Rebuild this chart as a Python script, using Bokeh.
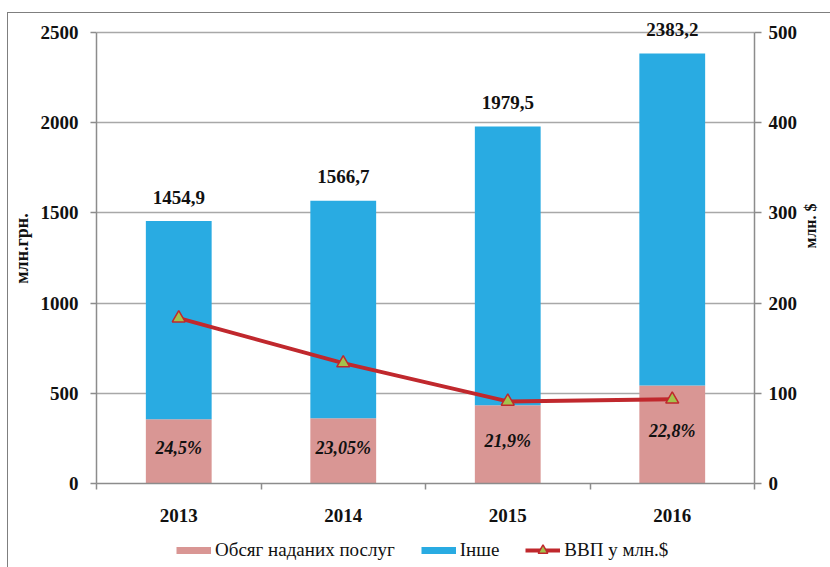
import math
import numpy as np
from bokeh.plotting import figure
from bokeh.layouts import column
from bokeh.models import (ColumnDataSource, Range1d, LinearAxis, FixedTicker,
                          Legend, LegendItem)
from bokeh.core.properties import value
from bokeh.embed import file_html
from bokeh.resources import INLINE

# ---------------- data ----------------
years = ["2013", "2014", "2015", "2016"]
total_uah = [1454.9, 1566.7, 1979.5, 2383.2]          # млн.грн., whole bar
services_uah = [356.4, 361.1, 433.5, 543.4]            # Обсяг наданих послуг
total_labels = ["1454,9", "1566,7", "1979,5", "2383,2"]
share_labels = ["24,5%", "23,05%", "21,9%", "22,8%"]
gdp_usd = [183.3, 133.5, 91.0, 93.3]                   # ВВП у млн.$
left_ticks = [0, 500, 1000, 1500, 2000, 2500]
right_ticks = [0, 100, 200, 300, 400, 500]

PINK = "#D99694"
BLUE = "#29ABE2"
RED = "#C0282D"
TRI = "#A4C24C"
GRID = "#A8A8A8"
AXIS = "#8C8C8C"
TXT = "#111111"
FNAME = "'Liberation Serif'"
FONT = value(FNAME)

n = len(years)
xc = (np.arange(n) + 0.5).tolist()
other = [t - s for t, s in zip(total_uah, services_uah)]
half = [s / 2 for s in services_uah]

left_max = left_ticks[-1]
right_max = right_ticks[-1]
ppu = 451 / left_max                 # pixels per unit on the left scale
y_end = left_max + 19 / ppu          # headroom for the top value label
k = right_max / left_max

src = ColumnDataSource(dict(x=xc, services=services_uah, other=other,
                            total=total_uah, tl=total_labels, sl=share_labels,
                            half=half, gdp=gdp_usd))

p = figure(width=822, height=517, x_range=Range1d(0, n), y_range=Range1d(0, y_end),
           output_backend="svg", toolbar_location=None,
           min_border_left=87, min_border_right=73, min_border_top=0, min_border_bottom=47,
           outline_line_color=None, background_fill_color="white", border_fill_color="white")
p.extra_y_ranges = {"usd": Range1d(0, y_end * k)}

# x axis (ticks at category boundaries, labels at centres)
xa = p.xaxis[0]
xa.ticker = FixedTicker(ticks=xc, minor_ticks=list(range(n + 1)))
xa.major_label_overrides = {float(x): y for x, y in zip(xc, years)}
xa.major_tick_out = 0
xa.major_tick_in = 0
xa.minor_tick_out = 6
xa.minor_tick_in = 0
xa.minor_tick_line_color = AXIS
xa.minor_tick_line_width = 1.5
xa.axis_line_color = AXIS
xa.axis_line_width = 1.5
xa.major_label_standoff = 19
xa.major_label_text_font = FNAME
xa.major_label_text_font_style = "bold"
xa.major_label_text_font_size = "19px"
xa.major_label_text_color = TXT

# left axis
ya = p.yaxis[0]
ya.ticker = FixedTicker(ticks=left_ticks)
ya.bounds = (0, left_max)
ya.minor_tick_out = 0
ya.minor_tick_in = 0
ya.major_tick_out = 6
ya.major_tick_in = 0
ya.major_tick_line_color = AXIS
ya.major_tick_line_width = 1.5
ya.axis_line_color = AXIS
ya.axis_line_width = 1.5
ya.major_label_standoff = 12
ya.major_label_text_font = FNAME
ya.major_label_text_font_style = "bold"
ya.major_label_text_font_size = "19px"
ya.major_label_text_color = TXT
ya.axis_label = "млн.грн."
ya.axis_label_standoff = 6
ya.axis_label_text_font = FNAME
ya.axis_label_text_font_style = "bold"
ya.axis_label_text_font_size = "18px"
ya.axis_label_text_color = TXT

# right axis
ra = LinearAxis(y_range_name="usd", ticker=FixedTicker(ticks=right_ticks),
                bounds=(0, right_max), axis_label="млн. $")
ra.minor_tick_out = 0
ra.minor_tick_in = 0
ra.major_tick_out = 7
ra.major_tick_in = 0
ra.major_tick_line_color = AXIS
ra.major_tick_line_width = 1.5
ra.axis_line_color = AXIS
ra.axis_line_width = 1.5
ra.major_label_standoff = 7
ra.major_label_text_font = FNAME
ra.major_label_text_font_style = "bold"
ra.major_label_text_font_size = "19px"
ra.major_label_text_color = TXT
ra.axis_label_standoff = 10
ra.axis_label_orientation = math.pi / 2
ra.axis_label_text_font = FNAME
ra.axis_label_text_font_style = "bold"
ra.axis_label_text_font_size = "16px"
ra.axis_label_text_color = TXT
p.add_layout(ra, "right")

p.xgrid.visible = False
p.ygrid.ticker = FixedTicker(ticks=left_ticks)
p.ygrid.grid_line_color = GRID
p.ygrid.grid_line_width = 1.4

# bars
p.vbar_stack(["services", "other"], x="x", width=0.4, source=src,
             fill_color=[PINK, BLUE], line_color=None)

# value labels
p.text("x", "total", text="tl", source=src, text_align="center", text_baseline="middle",
       y_offset=-24, text_font=FONT, text_font_style="bold", text_font_size="19px",
       text_color=TXT)
p.text("x", "half", text="sl", source=src, text_align="center", text_baseline="middle",
       y_offset=-3, text_font=FONT, text_font_style="bold italic", text_font_size="18px",
       text_color=TXT)

# GDP line
p.line("x", "gdp", source=src, y_range_name="usd", line_color=RED, line_width=4)
p.scatter("x", "gdp", source=src, y_range_name="usd", marker="triangle", size=13,
          fill_color=TRI, line_color=RED, line_width=1.5)

# ---------------- legend strip ----------------
lg = figure(width=822, height=37, x_range=Range1d(0, 1), y_range=Range1d(0, 1),
            output_backend="svg", toolbar_location=None, x_axis_location=None,
            y_axis_location=None, min_border=0, outline_line_color=None,
            background_fill_color="white", border_fill_color="white")
lg.xgrid.visible = False
lg.ygrid.visible = False
off = dict(x=[-1, -1], y=[-1, -1])   # keys only, kept outside the visible range
sw_pink = lg.line(x=off["x"], y=off["y"], line_color=PINK, line_width=7)
sw_blue = lg.line(x=off["x"], y=off["y"], line_color=BLUE, line_width=7)
sw_ln = lg.line(x=off["x"], y=off["y"], line_color=RED, line_width=4)
sw_mk = lg.scatter(x=off["x"], y=off["y"], marker="triangle", size=12, fill_color=TRI,
                   line_color=RED, line_width=1.5)

legend = Legend(items=[LegendItem(label="Обсяг наданих послуг", renderers=[sw_pink]),
                       LegendItem(label="Інше", renderers=[sw_blue]),
                       LegendItem(label="ВВП у млн.$", renderers=[sw_ln, sw_mk])],
                location=(80, 5), orientation="horizontal", padding=0, margin=0,
                glyph_width=35, glyph_height=24, label_standoff=4, label_height=20,
                spacing=26, label_text_font=FNAME, label_text_font_size="19px",
                label_text_color=TXT, background_fill_alpha=0, border_line_color=None)
lg.add_layout(legend, "center")

page = column(p, lg, spacing=0, margin=(12, 0, 0, 7),
              styles={"border-left": "1px solid #7f7f7f", "border-top": "1px solid #7f7f7f"})

open("out.html", "w").write(file_html(page, INLINE))
